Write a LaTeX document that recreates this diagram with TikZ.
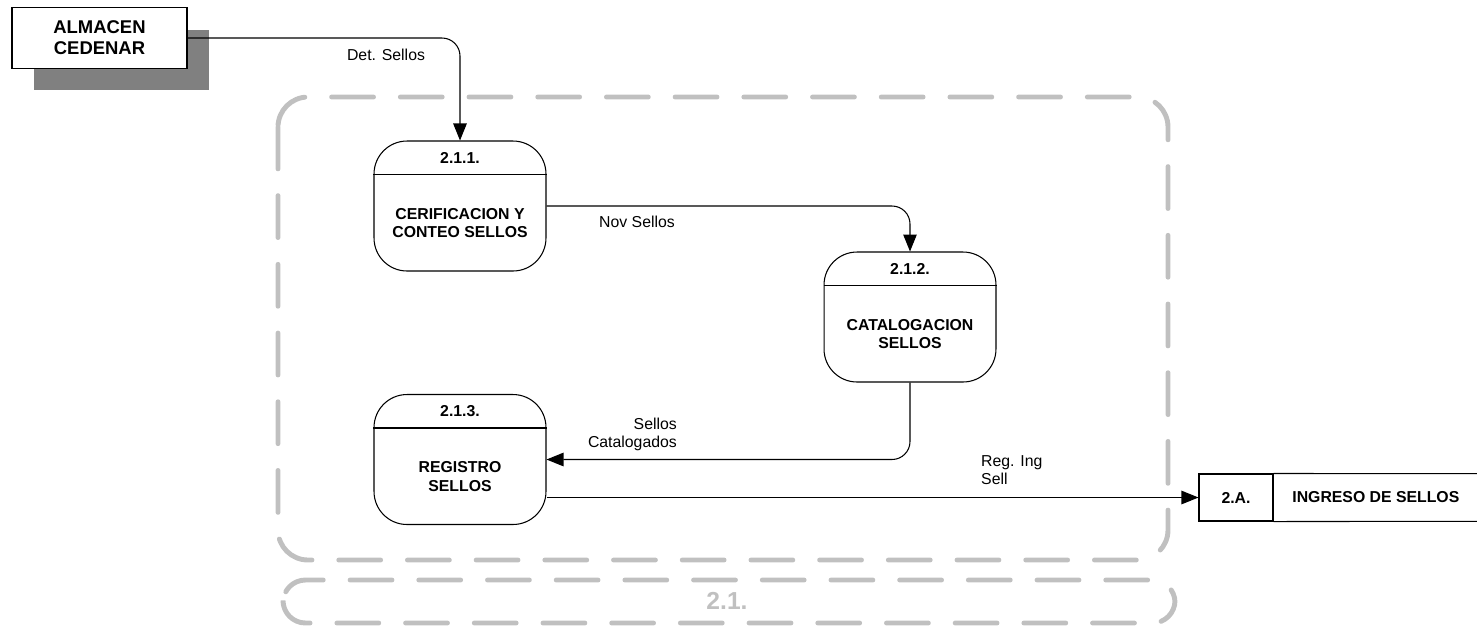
\documentclass[tikz,border=0pt]{standalone}
\usepackage{fontspec}
\setmainfont{Liberation Sans}
\usetikzlibrary{arrows.meta,shadows}
\definecolor{framegray}{RGB}{192,192,192}
\definecolor{shadegray}{RGB}{128,128,128}
\tikzset{
  proc/.style={draw, line width=0.6pt, rounded corners=0.66cm, minimum width=3.44cm, minimum height=2.6cm, inner sep=0pt},
  ptitle/.style={font=\bfseries\fontsize{9}{10.3}\selectfont},
  ptext/.style={font=\bfseries\fontsize{9}{10.3}\selectfont, align=center},
  flow/.style={draw, line width=0.6pt, -{Triangle[length=0.34cm,width=0.27cm]}, rounded corners=0.36cm},
  flowlabel/.style={font=\fontsize{9}{10.3}\selectfont},
  extent/.style={draw, line width=0.6pt, fill=white, minimum width=3.5cm, minimum height=1.22cm,
    font=\bfseries\fontsize{10.5}{12}\selectfont, align=center,
    drop shadow={shadow xshift=0.44cm, shadow yshift=-0.44cm, fill=shadegray, opacity=1}},
  store/.style={draw, line width=0.6pt, minimum width=1.48cm, minimum height=0.94cm, font=\bfseries\fontsize{9}{10.3}\selectfont},
  storename/.style={minimum width=4.08cm, minimum height=0.94cm, font=\bfseries\fontsize{9}{10.3}\selectfont},
  frame/.style={draw=framegray, line width=2.8pt, line cap=round, dash pattern=on 23.8pt off 15.3pt, rounded corners=0.6cm},
}
\begin{document}
\begin{tikzpicture}[x=0.02cm, y=-0.02cm]
  \useasboundingbox (0,0) rectangle (1477,627);

  % external entity
  \node[extent] (alm) at (99.5,38) {ALMACEN\\CEDENAR};

  % processes
  \node[proc] (p1) at (460,206) {};
  \draw[line width=0.6pt] ([yshift=-0.68cm]p1.north west) -- ([yshift=-0.68cm]p1.north east);
  \node[ptitle] (p1id) at ([yshift=-0.34cm]p1.north) {2.1.1.};
  \node[ptext] (p1txt) at ([yshift=-0.34cm]p1.center) {CERIFICACION Y\\CONTEO SELLOS};

  \node[proc] (p2) at (910,317) {};
  \draw[line width=0.6pt] ([yshift=-0.68cm]p2.north west) -- ([yshift=-0.68cm]p2.north east);
  \node[ptitle] (p2id) at ([yshift=-0.34cm]p2.north) {2.1.2.};
  \node[ptext] (p2txt) at ([yshift=-0.34cm]p2.center) {CATALOGACION\\SELLOS};

  \node[proc] (p3) at (460,459.5) {};
  \draw[line width=0.6pt] ([yshift=-0.68cm]p3.north west) -- ([yshift=-0.68cm]p3.north east);
  \node[ptitle] (p3id) at ([yshift=-0.34cm]p3.north) {2.1.3.};
  \node[ptext] (p3txt) at ([yshift=-0.34cm]p3.center) {REGISTRO\\SELLOS};

  % data store
  \node[store] (st) at (1236,497.5) {2.A.};
  \node[storename, anchor=west] (stname) at (st.east) {INGRESO DE SELLOS};
  \draw[line width=0.6pt] (st.north east) -- (stname.north east); % top
  \draw[line width=0.6pt] (st.south east) -- (stname.south east); % bottom

  % flows
  \draw[flow] (alm.east) -| (p1.north);
  \node[flowlabel] (l1) at (386,55) {Det. Sellos};
  \draw[flow] (p1.east) -| (p2.north);
  \node[flowlabel] (l2) at (637,222) {Nov Sellos};
  \draw[flow] (p2.south) |- (p3.east);
  \node[flowlabel, align=right, anchor=east] (l3) at (683,434) {Sellos\\Catalogados};
  \draw[flow] (p3.east |- st.west) -- (st.west);
  \node[flowlabel, align=left, anchor=west] (l4) at (975,470) {Reg. Ing\\Sell};

  % subsystem frame
  \draw[frame] (278,97) rectangle (1168,560);
  \draw[frame, rounded corners=0.45cm] (283,580) rectangle (1175,623);
  \node[font=\bfseries\fontsize{14}{16}\selectfont, text=framegray] (f1) at (727,601) {2.1.};
\end{tikzpicture}
\end{document}
